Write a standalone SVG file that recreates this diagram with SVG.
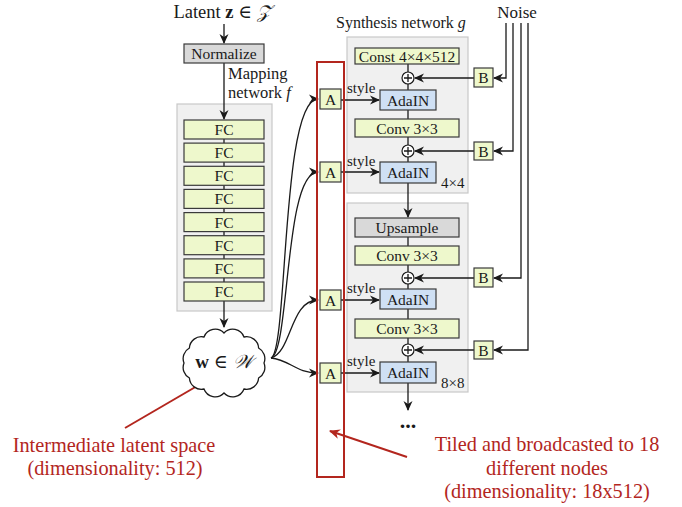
<svg xmlns="http://www.w3.org/2000/svg" width="682" height="507" viewBox="0 0 682 507">
<defs>
<style>
text{font-family:"Liberation Serif","DejaVu Serif",serif;fill:#1a1a1a}
.t14{font-size:15.5px;text-anchor:middle}
.t16{font-size:16px}
.st{font-size:15px}
.red{fill:#b3261e;font-size:20.3px;text-anchor:middle}
.grp{fill:#f0f0f0;stroke:#c8c8c8;stroke-width:1.2}
.g{fill:#eef8cc;stroke:#3a3a3a;stroke-width:1.2}
.b{fill:#cfe0f4;stroke:#3a3a3a;stroke-width:1.2}
.gr{fill:#d9d9d9;stroke:#3a3a3a;stroke-width:1.2}
.ln{fill:none;stroke:#1a1a1a;stroke-width:1.3}
.ar{fill:none;stroke:#1a1a1a;stroke-width:1.3;marker-end:url(#ah)}
.rl{fill:none;stroke:#b3261e;stroke-width:2;marker-end:url(#rh)}
.pl{fill:#fff;stroke:#1a1a1a;stroke-width:1.2}
</style>
<marker id="ah" viewBox="0 0 10 10" refX="9" refY="5" markerWidth="10" markerHeight="10" markerUnits="userSpaceOnUse" orient="auto">
<path d="M0,0.5 L10,5 L0,9.5 L3,5 z" fill="#1a1a1a"/>
</marker>
<marker id="rh" viewBox="0 0 10 10" refX="9" refY="5" markerWidth="11" markerHeight="11" markerUnits="userSpaceOnUse" orient="auto">
<path d="M0,0.5 L10,5 L0,9.5 L3,5 z" fill="#b3261e"/>
</marker>
</defs>

<!-- group backgrounds -->
<g id="mapping-network">
<rect class="grp" x="177" y="104" width="95" height="207"/>
</g>
<g id="synthesis-block-4x4">
<rect class="grp" x="347" y="37" width="121" height="156"/>
<text x="441" y="188" class="st">4×4</text>
</g>
<g id="synthesis-block-8x8">
<rect class="grp" x="347" y="203" width="121" height="189"/>
<text x="441" y="388" class="st">8×8</text>
</g>

<!-- connectors -->
<g id="connectors">
<line class="ar" x1="224" y1="24" x2="224" y2="43"/>
<line class="ar" x1="224" y1="63" x2="224" y2="119"/>
<line class="ln" x1="224" y1="120" x2="224" y2="301"/>
<line class="ar" x1="224" y1="301" x2="224" y2="327"/>
<path class="ar" d="M271,358 C288,352 281,99 318,99"/>
<path class="ar" d="M271,358 C290,352 284,172 318,172"/>
<path class="ar" d="M271,358 C292,352 290,300 318,300"/>
<path class="ar" d="M271,358 C290,360 296,373 318,373"/>
<line class="ar" x1="341" y1="100" x2="379" y2="100"/>
<line class="ar" x1="341" y1="172" x2="379" y2="172"/>
<line class="ar" x1="341" y1="300" x2="379" y2="300"/>
<line class="ar" x1="341" y1="373" x2="379" y2="373"/>
<line class="ln" x1="408" y1="64" x2="408" y2="183"/>
<line class="ar" x1="408" y1="183" x2="408" y2="217"/>
<line class="ln" x1="408" y1="237" x2="408" y2="362"/>
<line class="ar" x1="408" y1="383" x2="408" y2="410"/>
<line class="ar" x1="474" y1="78" x2="415" y2="78"/>
<line class="ar" x1="474" y1="151" x2="415" y2="151"/>
<line class="ar" x1="474" y1="278" x2="415" y2="278"/>
<line class="ar" x1="474" y1="350" x2="415" y2="350"/>
<polyline class="ar" points="506,23 506,78 494,78"/>
<polyline class="ar" points="513,23 513,151 494,151"/>
<polyline class="ar" points="521,23 521,278 494,278"/>
<polyline class="ar" points="528,23 528,350 494,350"/>
<line class="rl" x1="125" y1="428" x2="216" y2="375"/>
<line class="rl" x1="407" y1="457" x2="330" y2="431"/>
</g>

<!-- labels -->
<g id="latent">
<text x="222" y="18" font-size="18.5" text-anchor="middle">Latent <tspan font-weight="bold">z</tspan> ∈ <tspan font-style="italic">𝒵</tspan></text>
</g>
<g id="normalize">
<rect class="gr" x="184" y="44" width="80" height="19"/>
<text x="224" y="59" class="t14">Normalize</text>
</g>
<g id="mapping-label">
<text x="228" y="78.5" font-size="16.5">Mapping</text>
<text x="228" y="98" font-size="16.5">network <tspan font-style="italic">f</tspan></text>
</g>
<g id="fc1"><rect class="g" x="184" y="120" width="80" height="19"/><text x="224" y="135" class="t14">FC</text></g>
<g id="fc2"><rect class="g" x="184" y="143.1" width="80" height="19"/><text x="224" y="158.1" class="t14">FC</text></g>
<g id="fc3"><rect class="g" x="184" y="166.3" width="80" height="19"/><text x="224" y="181.3" class="t14">FC</text></g>
<g id="fc4"><rect class="g" x="184" y="189.4" width="80" height="19"/><text x="224" y="204.4" class="t14">FC</text></g>
<g id="fc5"><rect class="g" x="184" y="212.6" width="80" height="19"/><text x="224" y="227.6" class="t14">FC</text></g>
<g id="fc6"><rect class="g" x="184" y="235.7" width="80" height="19"/><text x="224" y="250.7" class="t14">FC</text></g>
<g id="fc7"><rect class="g" x="184" y="258.9" width="80" height="19"/><text x="224" y="273.9" class="t14">FC</text></g>
<g id="fc8"><rect class="g" x="184" y="282" width="80" height="19"/><text x="224" y="297" class="t14">FC</text></g>

<g id="w-cloud">
<path fill="#fff" stroke="#1a1a1a" stroke-width="1.3" d="M264,363 A12,12 0 0 1 258.6,378 A12,12 0 0 1 244,389 A12,12 0 0 1 224,393 A12,12 0 0 1 204,389 A12,12 0 0 1 189.4,378 A12,12 0 0 1 184,363 A12,12 0 0 1 189.4,348 A12,12 0 0 1 204,337 A12,12 0 0 1 224,333 A12,12 0 0 1 244,337 A12,12 0 0 1 258.6,348 A12,12 0 0 1 264,363 Z"/>
<text x="224" y="368" font-size="19" text-anchor="middle"><tspan font-weight="bold">w</tspan> ∈ <tspan font-style="italic">𝒲</tspan></text>
</g>

<g id="tiled-vector">
<rect x="317" y="62" width="27" height="415" fill="none" stroke="#b3261e" stroke-width="2"/>
</g>
<g id="a1"><rect class="g" x="320" y="89" width="21" height="20"/><text x="330.5" y="104.5" class="t14" font-size="16">A</text></g>
<g id="a2"><rect class="g" x="320" y="162" width="21" height="20"/><text x="330.5" y="177.5" class="t14" font-size="16">A</text></g>
<g id="a3"><rect class="g" x="320" y="290" width="21" height="20"/><text x="330.5" y="305.5" class="t14" font-size="16">A</text></g>
<g id="a4"><rect class="g" x="320" y="363" width="21" height="20"/><text x="330.5" y="378.5" class="t14" font-size="16">A</text></g>

<g id="synthesis-label">
<text x="336" y="28" class="t16">Synthesis network <tspan font-style="italic">g</tspan></text>
</g>
<g id="noise-label"><text x="517" y="18" font-size="17" text-anchor="middle">Noise</text></g>

<g id="const"><rect class="g" x="355" y="48" width="104" height="16"/><text x="407" y="61.5" class="t14">Const 4×4×512</text></g>
<g id="plus1"><circle class="pl" cx="408" cy="78" r="6"/><path class="ln" d="M404,78 H412 M408,74 V82"/></g>
<g id="adain1"><rect class="b" x="380" y="90" width="56" height="20"/><text x="408" y="105.5" class="t14" font-size="16">AdaIN</text></g>
<g id="conv1"><rect class="g" x="355" y="119" width="104" height="18"/><text x="407" y="133.5" class="t14">Conv 3×3</text></g>
<g id="plus2"><circle class="pl" cx="408" cy="151" r="6"/><path class="ln" d="M404,151 H412 M408,147 V155"/></g>
<g id="adain2"><rect class="b" x="380" y="162" width="56" height="21"/><text x="408" y="178" class="t14" font-size="16">AdaIN</text></g>

<g id="upsample"><rect class="gr" x="355" y="218" width="104" height="19"/><text x="407" y="232.5" class="t14">Upsample</text></g>
<g id="conv2"><rect class="g" x="355" y="246" width="104" height="19"/><text x="407" y="260.5" class="t14">Conv 3×3</text></g>
<g id="plus3"><circle class="pl" cx="408" cy="278" r="6"/><path class="ln" d="M404,278 H412 M408,274 V282"/></g>
<g id="adain3"><rect class="b" x="380" y="289" width="56" height="20"/><text x="408" y="304.5" class="t14" font-size="16">AdaIN</text></g>
<g id="conv3"><rect class="g" x="355" y="319" width="104" height="19"/><text x="407" y="333.5" class="t14">Conv 3×3</text></g>
<g id="plus4"><circle class="pl" cx="408" cy="350" r="6"/><path class="ln" d="M404,350 H412 M408,346 V354"/></g>
<g id="adain4"><rect class="b" x="380" y="362" width="56" height="21"/><text x="408" y="378" class="t14" font-size="16">AdaIN</text></g>

<g id="style-labels">
<text x="347" y="93" class="st">style</text>
<text x="347" y="166" class="st">style</text>
<text x="347" y="293" class="st">style</text>
<text x="347" y="366" class="st">style</text>
</g>

<g id="b1"><rect class="g" x="474" y="68" width="19" height="19"/><text x="483.5" y="83" class="t14" font-size="16">B</text></g>
<g id="b2"><rect class="g" x="474" y="142" width="19" height="18"/><text x="483.5" y="156.5" class="t14" font-size="16">B</text></g>
<g id="b3"><rect class="g" x="474" y="268" width="19" height="19"/><text x="483.5" y="283" class="t14" font-size="16">B</text></g>
<g id="b4"><rect class="g" x="474" y="341" width="19" height="18"/><text x="483.5" y="355.5" class="t14" font-size="16">B</text></g>

<g id="ellipsis"><text x="408" y="428" font-size="22" font-weight="bold" text-anchor="middle">...</text></g>

<g id="annotations">
<text x="114" y="452" class="red">Intermediate latent space</text>
<text x="115" y="475" class="red">(dimensionality: 512)</text>
<text x="547" y="451" class="red">Tiled and broadcasted to 18</text>
<text x="547" y="475" class="red">different nodes</text>
<text x="547" y="498" class="red">(dimensionality: 18x512)</text>
</g>
</svg>
